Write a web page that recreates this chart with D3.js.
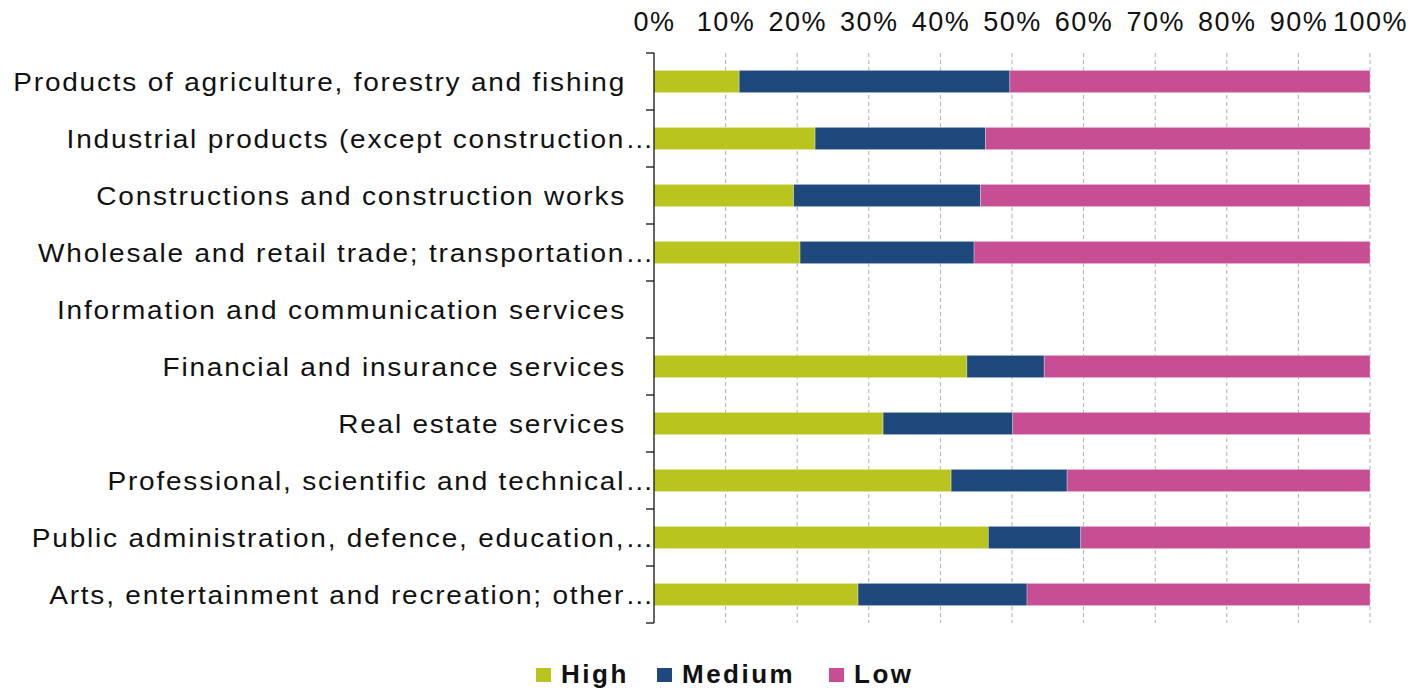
<!DOCTYPE html>
<html><head><meta charset="utf-8">
<script src="https://cdn.jsdelivr.net/npm/d3@7"></script>
<style>body{margin:0;background:#fff}svg{display:block}text{font-family:"Liberation Sans",Arial,sans-serif}</style>
</head><body>
<script>
const categories = [
  "Products of agriculture, forestry and fishing",
  "Industrial products (except construction…",
  "Constructions and construction works",
  "Wholesale and retail trade; transportation…",
  "Information and communication services",
  "Financial and insurance services",
  "Real estate services",
  "Professional, scientific and technical…",
  "Public administration, defence, education,…",
  "Arts, entertainment and recreation; other…"
];
const high   = [11.9, 22.5, 19.5, 20.4, 0, 43.7, 32.0, 41.5, 46.7, 28.5];
const medium = [37.8, 23.8, 26.1, 24.3, 0, 10.8, 18.1, 16.2, 12.9, 23.6];
const low    = [50.3, 53.7, 54.4, 55.3, 0, 45.5, 49.9, 42.3, 40.4, 47.9];
const seriesNames = ["High", "Medium", "Low"];
const seriesColors = ["#b9c41f", "#1f497d", "#c84e94"];
const xTicks = [0,10,20,30,40,50,60,70,80,90,100];

const W = 1414, H = 691;
const m = {left: 654, right: 44, top: 53, bottom: 68};
const svg = d3.select("body").append("svg").attr("width", W).attr("height", H);

const x = d3.scaleLinear().domain([0,100]).range([m.left, W - m.right]);
const y = d3.scaleBand().domain(categories).range([m.top, H - m.bottom]).paddingInner(0.61).paddingOuter(0.305);

// gridlines
svg.append("g").selectAll("line").data(xTicks.filter(d => d > 0)).join("line")
  .attr("x1", d => x(d)).attr("x2", d => x(d))
  .attr("y1", m.top).attr("y2", H - m.bottom)
  .attr("stroke", "#b0b0b0").attr("stroke-width", 1).attr("stroke-dasharray", "4,3");

// top axis labels
const xAxis = d3.axisTop(x).tickValues(xTicks).tickFormat(d => d + "%").tickSize(0).tickPadding(0);
const gx = svg.append("g").attr("transform", `translate(0,31)`).call(xAxis);
gx.select(".domain").remove();
gx.selectAll("text").attr("font-size", 27).attr("fill", "#111").attr("dy", "0")
  .attr("letter-spacing", "1.5px").attr("font-family", "'Liberation Sans',Arial,sans-serif");

// stacked data
const rows = categories.map((c, i) => ({cat: c, High: high[i], Medium: medium[i], Low: low[i]}));
const stack = d3.stack().keys(seriesNames)(rows);
svg.append("g").selectAll("g").data(stack).join("g")
  .attr("fill", (d, i) => seriesColors[i])
  .selectAll("rect").data(d => d).join("rect")
  .attr("x", d => x(d[0])).attr("width", d => x(d[1]) - x(d[0]))
  .attr("y", d => y(d.data.cat)).attr("height", y.bandwidth())
  .attr("stroke", "rgba(255,255,255,0.35)").attr("stroke-width", 0.8);

// y axis line and ticks
const bounds = d3.range(categories.length + 1).map(i => m.top + i * y.step());
const ga = svg.append("g").attr("stroke", "#111").attr("stroke-width", 1.3);
ga.append("line").attr("x1", m.left).attr("x2", m.left).attr("y1", m.top).attr("y2", H - m.bottom);
ga.selectAll("line.t").data(bounds).join("line").attr("class", "t")
  .attr("x1", m.left - 8).attr("x2", m.left).attr("y1", d => d).attr("y2", d => d);

// category labels (slightly widened glyphs as in the reference)
svg.append("g").selectAll("text").data(categories).join("text")
  .attr("transform", d => `translate(${d.endsWith("…") ? m.left + 1 : m.left - 28},${y(d) + y.bandwidth() / 2}) scale(1.12,1)`)
  .attr("dy", "0.36em").attr("text-anchor", "end")
  .attr("font-size", 25).attr("letter-spacing", "1.6px").attr("fill", "#111").text(d => d);

// legend
const legendX = [536, 657, 829];
const lg = svg.append("g").selectAll("g").data(seriesNames).join("g")
  .attr("transform", (d, i) => `translate(${legendX[i]},675)`);
lg.append("rect").attr("x", 0).attr("y", -7).attr("width", 15).attr("height", 14).attr("fill", (d, i) => seriesColors[i]);
lg.append("text").attr("x", 25).attr("y", 8).attr("font-size", 26).attr("font-weight", "bold")
  .attr("letter-spacing", "2.5px").attr("fill", "#111").text(d => d);
</script>
</body></html>
